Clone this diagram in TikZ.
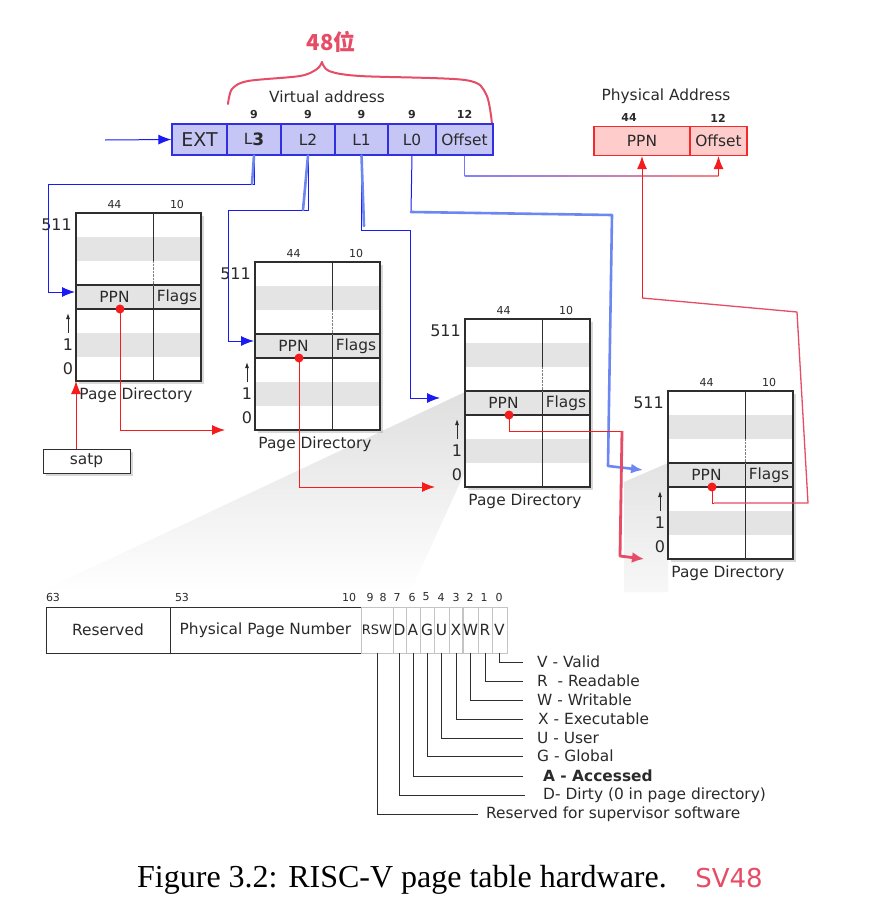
\documentclass[tikz,border=0pt]{standalone}
\usepackage{fontspec}
\setmainfont{DejaVu Sans}
\newfontfamily\capfont{Liberation Serif}
\newfontfamily\cjk{Noto Sans CJK SC}
\usetikzlibrary{arrows.meta,shadows}
\definecolor{VaFill}{HTML}{C6C6F6}
\definecolor{VaEdge}{HTML}{3030E0}
\definecolor{PaFill}{HTML}{FFCCCC}
\definecolor{PaEdge}{HTML}{F42A2A}
\definecolor{Link}{HTML}{1A1AF4}
\definecolor{HandBlue}{HTML}{6C86F2}
\definecolor{Ptr}{HTML}{F41C1C}
\definecolor{HandRed}{HTML}{E64C66}
\definecolor{RowGray}{HTML}{E4E4E4}
\definecolor{FlagEdge}{HTML}{C4C4C4}
\definecolor{Frame}{HTML}{2E2E2E}
\definecolor{Ink}{HTML}{2A2A2A}
% one page directory: name, left, top
\newcommand{\pagedir}[3]{%
  \begin{scope}[shift={(#2,#3)}]
    \fill[white,drop shadow={shadow xshift=2.5pt,shadow yshift=-2.5pt,opacity=.3}] (0,0) rectangle (125,168);
    \foreach \r in {1,3,5} \fill[RowGray] (0,24*\r) rectangle (125,24*\r+24);
    \draw[Frame,line width=1.2pt] (0,0) rectangle (125,168);
    \draw[Frame,line width=1.2pt] (0,72) -- (125,72) (0,96) -- (125,96);
    \draw[Frame,line width=1pt] (77,0) -- (77,48) (77,72) -- (77,168);
    \draw[gray,densely dotted] (77,48) -- (77,72);
    \node[txt] (#1-ppn) at (38.5,84) {PPN};
    \node[txt] (#1-flags) at (101,84) {Flags};
    \node[bits] at (38.5,-9) {44};
    \node[bits] at (101,-9) {10};
    \node[idx,anchor=east] at (-4,12) {511};
    \draw[Ink,line width=.9pt,-{Latex[length=6pt,width=4pt]}] (-8,120) -- (-8,100);
    \node[idx] at (-8,132) {1};
    \node[idx] at (-8,156) {0};
    \node[txt] (#1-name) at (60,182) {Page Directory};
    \coordinate (#1-dot) at (44,96);
    \coordinate (#1-in) at (-1,79);
    \coordinate (#1-base) at (-30,168);
    \coordinate (#1-foot) at (0,168);
    \fill[Ptr] (#1-dot) circle (4.5pt);
  \end{scope}
}

\begin{document}
\begin{tikzpicture}[x=1pt,y=-1pt,
  every node/.style={text=Ink},
  tip/.style={-{Latex[length=13pt,width=10pt]}},
  txt/.style={font=\fontsize{15.4}{18}\selectfont,inner sep=0pt},
  bits/.style={font=\fontsize{11}{13}\selectfont,inner sep=0pt},
  vbits/.style={font=\bfseries\fontsize{11}{13}\selectfont,inner sep=0pt},
  idx/.style={font=\fontsize{16}{18}\selectfont,inner sep=0pt},
  va/.style={txt,draw=VaEdge,fill=VaFill,line width=1.2pt,minimum height=31pt},
  pa/.style={txt,draw=PaEdge,fill=PaFill,line width=1.2pt,minimum height=29pt},
  pte/.style={txt,draw=Frame,line width=1pt,minimum height=46pt},
  flagcell/.style={txt,draw=FlagEdge,line width=.8pt,minimum height=46pt},
  legend/.style={txt,anchor=west},
  link/.style={Link,line width=1pt},
  handblue/.style={HandBlue,line width=2.6pt,line cap=round,line join=round},
  ptr/.style={Ptr,line width=1pt},
  handred/.style={HandRed,line width=1.3pt,line join=round},
  leader/.style={Frame,line width=.9pt}]
  \useasboundingbox (0,0) rectangle (881,919);
  \fill[white] (0,0) rectangle (881,919);

  % Fading wedges down to the entry format.
  \shade[top color=gray!25,bottom color=white] (465,392) -- (40,592) -- (410,592) -- (465,472) -- cycle;
  \shade[top color=gray!22,bottom color=gray!6] (668,463) -- (624,482) -- (624,592) -- (668,592) -- cycle;

  % Virtual address.
  \draw[HandRed,line width=2pt,line cap=round] plot[smooth] coordinates {(228,104) (232,89) (248,81) (300,76) (317,69) (322,62)};
  \draw[HandRed,line width=2pt,line cap=round] plot[smooth] coordinates {(322,62) (329,71) (360,76) (465,80) (486,94) (492,124)};
  \node[text=HandRed,font=\cjk\bfseries\fontsize{22}{24}\selectfont] (bits48) at (331,42) {48位};
  \node[txt] (va-title) at (327,97) {Virtual address};
  \node[va,minimum width=55pt] (va-ext) at (199.5,139.5) {\fontsize{19}{21}\selectfont EXT};
  \node[va,minimum width=54pt] (va-l3) at (254,139.5) {L\raisebox{-1.5pt}{\bfseries\fontsize{17}{18}\selectfont 3}};
  \node[va,minimum width=54pt] (va-l2) at (308,139.5) {L2};
  \node[va,minimum width=53pt] (va-l1) at (361.5,139.5) {L1};
  \node[va,minimum width=48pt] (va-l0) at (412,139.5) {L0};
  \node[va,minimum width=57pt] (va-off) at (464.5,139.5) {Offset};
  \foreach \n in {l3,l2,l1,l0} \node[vbits] at ([yshift=9pt]va-\n.north) {9};
  \node[vbits] at ([yshift=9pt]va-off.north) {12};
  \coordinate (va-feed) at (105,140);
  \draw[link,tip] (va-feed) -- (va-ext.west);

  % Physical address.
  \node[txt] (pa-title) at (666,96) {Physical Address};
  \node[pa,minimum width=96pt] (pa-ppn) at (642,141) {PPN};
  \node[pa,minimum width=57pt] (pa-off) at (718.5,141) {Offset};
  \node[vbits] at (629,117) {44};
  \node[vbits] at (718,118) {12};

  % Page directories.
  \pagedir{d1}{76}{213}
  \pagedir{d2}{255}{262}
  \pagedir{d3}{465}{319}
  \pagedir{d4}{668}{391}
  \node[txt,draw=Frame,line width=1pt,fill=white,minimum width=87pt,minimum height=24pt,
        drop shadow={shadow xshift=2.5pt,shadow yshift=-2.5pt,opacity=.3}] (satp) at (86.5,461) {satp};

  % Index links.
  \draw[link,tip] (va-l3.south) |- (48,184) |- (d1-in);
  \draw[link,tip] (va-l2.south) |- (228,210) |- (d2-in);
  \draw[link,tip] (va-l1.south) |- (410,230) |- ([xshift=-24pt]d3-in);
  \draw[link] (va-l0.south) -- (411,212);
  \draw[handblue] (va-l3.south) -- (252,184);
  \draw[handblue] (va-l2.south) -- (303,210);
  \draw[handblue] (va-l1.south) -- (364,226);
  \draw[handblue,-{Latex[length=12pt,width=10pt]}] (411,212) -- (612,215) -- (608,466) -- ([xshift=-24pt]d4-in);
  \draw[Link!60!white,line width=1pt] (va-off.south) -- ++(0,20) coordinate (off-bend);
  \shade[left color=Link!55!white,right color=Ptr!55!white] ([yshift=.6pt]off-bend) rectangle ([yshift=-.6pt]off-bend -| pa-off.south);
  \draw[ptr,tip] (off-bend -| pa-off.south) -- (pa-off.south);

  % Pointer links.
  \draw[ptr,tip] (satp.north -| d1-foot) -- (d1-foot);
  \draw[ptr,tip] (d1-dot) |- (d2-base);
  \draw[ptr,tip] (d2-dot) |- (d3-base);
  \draw[ptr] (d3-dot) |- (622,431);
  \draw[HandRed,line width=2.8pt,line join=round,-{Latex[length=12pt,width=11pt]}] (622,431) -- (620,556) -- ([xshift=6pt]d4-base);
  \draw[ptr] (d4-dot) |- (714,503);
  \draw[handred] (714,503) -- (808,503) -- (797,312) -- (642,298);
  \draw[ptr,tip] (642,298) -- (pa-ppn.south);

  % Entry format.
  \node[pte,minimum width=124pt] (pte-res) at (108,630) {Reserved};
  \node[pte,minimum width=191pt] (pte-ppn) at (265.5,630) {Physical Page Number};
  \foreach \n/\t/\xa/\xb in {rsw/{\fontsize{13}{14}\selectfont RSW}/361/393, d/D/393/406, a/A/406/420, g/G/420/434,
      u/U/434/449, x/X/449/463, w/W/463/478, r/R/478/492, v/V/492/507} {
    \pgfmathsetmacro{\w}{\xb-\xa}
    \pgfmathsetmacro{\c}{(\xa+\xb)/2}
    \node[flagcell,minimum width=\w pt] (f-\n) at (\c,630) {\t};
  }
  \node[bits] at (53,597) {63};
  \node[bits] at (182,597) {53};
  \node[bits] at (349,597) {10};
  \foreach \b/\x in {9/370,8/383,7/397,6/412,5/426,4/441,3/456,2/470,1/484,0/499}
    \node[bits] at (\x,597) {\b};

  \node[legend] (lg-v) at (537,662) {V - Valid};
  \node[legend] (lg-r) at (537,681) {R \ - Readable};
  \node[legend] (lg-w) at (537,700) {W - Writable};
  \node[legend] (lg-x) at (538,719) {X - Executable};
  \node[legend] (lg-u) at (537,738) {U - User};
  \node[legend] (lg-g) at (537,756) {G - Global};
  \node[legend,font=\bfseries\fontsize{15.4}{18}\selectfont] (lg-a) at (543,776) {A - Accessed};
  \node[legend] (lg-d) at (543,795) {D- Dirty (0 in page directory)};
  \node[legend] (lg-rsw) at (486,814) {Reserved for supervisor software};
  \foreach \n/\gap in {v/14,r/14,w/14,x/15,u/14,g/14,a/20,d/18,rsw/8}
    \draw[leader] (f-\n.south) |- ([xshift=-\gap pt]lg-\n.west);

  % Caption.
  \node[font=\capfont\fontsize{32}{36}\selectfont,text=black] (caption) at (402,880) {Figure 3.2: RISC-V page table hardware.};
  \node[text=HandRed,font=\fontsize{26}{28}\selectfont] (sv48) at (729,878) {SV48};
\end{tikzpicture}
\end{document}
